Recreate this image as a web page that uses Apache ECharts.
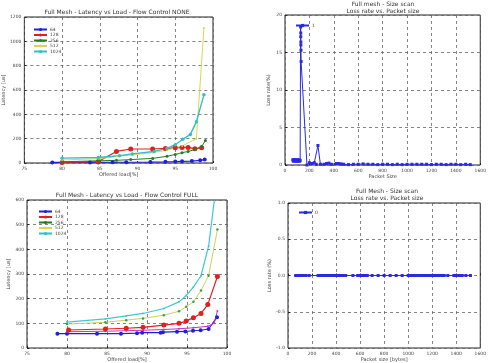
<!DOCTYPE html>
<html>
<head>
<meta charset="utf-8">
<script src="https://cdn.jsdelivr.net/npm/echarts@6/dist/echarts.min.js"></script>
<style>
  html, body { margin: 0; padding: 0; background: #fff; }
  #main { width: 489px; height: 363px; }
</style>
</head>
<body>
<div id="main"></div>
<script>
// 数据: 流控 NONE
const noneNames = ['64', '128', '256', '512', '1024']
const none64X = [78.7, 80, 83.7, 84.8, 86.7, 88.5, 91.7, 93.7, 95, 95.9, 97.2, 98.3, 98.9]
const none64Y = [5, 5, 5, 5, 6, 6, 8, 10, 12, 14, 16, 22, 28]
const none128X = [80, 84.8, 87.2, 89.1, 92, 93.7, 95, 95.9, 96.7, 97.6, 98.5]
const none128Y = [5, 12, 95, 115, 115, 120, 125, 128, 128, 118, 125]
const none256X = [80, 84.8, 87.2, 89.1, 92, 93.9, 95, 95.9, 96.7, 97.6, 98.5, 99]
const none256Y = [10, 18, 22, 28, 38, 55, 70, 85, 95, 110, 135, 185]
const none512X = [80, 84.8, 87.2, 89.1, 92, 93.9, 95.9, 97.8, 98.8]
const none512Y = [25, 35, 55, 65, 85, 105, 140, 200, 1110]
const none1024X = [80, 84.8, 87.6, 89.3, 92.2, 93.9, 95, 96, 97, 97.8, 98.8]
const none1024Y = [40, 45, 60, 75, 95, 120, 150, 195, 235, 340, 560]

// 数据: 流控 FULL
const fullNames = ['64', '128', '256', '512', '1024']
const full64X = [78.8, 80, 83.75, 86.75, 88.75, 89.4, 91.7, 92, 93.75, 94.8, 95.75, 96.7, 97.7, 98.75]
const full64Y = [58, 58, 58, 58, 60, 62, 62, 64, 66, 67, 70, 72, 77, 125]
const full128X = [80, 84.8, 87.4, 89.5, 92.1, 94, 95.8, 97.6, 98.4, 98.8]
const full128Y = [66, 68, 70, 72, 75, 78, 82, 88, 100, 150]
const full256X = [80.2, 84.8, 87.4, 89.5, 92.1, 94, 94.9, 95.8, 96.75, 97.6, 98.8]
const full256Y = [73, 77, 80, 84, 93, 100, 109, 123, 140, 176, 290]
const full512X = [80, 84.8, 87.4, 89.5, 92.1, 94, 94.9, 95.8, 96.75, 97.7, 98.8]
const full512Y = [97, 104, 113, 120, 133, 149, 167, 187, 233, 293, 480]
const full1024X = [80, 84.8, 87.4, 89.5, 92.1, 94, 94.9, 95.8, 96.75, 97.7, 98.5]
const full1024Y = [105, 118, 130, 140, 160, 187, 213, 247, 293, 413, 620]

// 数据: 包长扫描 (full mesh)
const scanSizes = [64, 68, 72, 76, 80, 84, 88, 92, 96, 100, 104, 108, 112, 116, 120, 124,
  128, 129, 129, 130, 130, 131, 132, 180, 200, 220, 240, 256, 270, 290, 320, 340, 360, 380,
  420, 440, 460, 480, 520, 560, 600, 640, 680, 720, 760, 800, 840, 880, 920, 960, 1000,
  1040, 1080, 1120, 1160, 1200, 1240, 1280, 1320, 1360, 1400, 1440, 1480, 1518]
const scanLoss = [0.7, 0.5, 0.7, 0.6, 0.7, 0.5, 0.6, 0.7, 0.5, 0.6, 0.7, 0.5, 0.6, 0.7, 0.5, 0.6,
  18.4, 17.6, 17.1, 16.4, 16, 15.3, 13.8, 0, 0.3, 0.2, 0.3, 0.1, 2.6, 0.1, 0.1, 0.2, 0.25, 0.1,
  0.2, 0.2, 0.15, 0.1, 0.05, 0.1, 0.1, 0.15, 0.1, 0.1, 0.05, 0.1, 0.1, 0.05, 0.1, 0.05, 0.1,
  0.1, 0.1, 0.1, 0.1, 0.05, 0.1, 0.1, 0.05, 0.1, 0.1, 0.05, 0.1, 0.05]

// 数据: 包长扫描 (Full Mesh, 无丢包)
const scan2Sizes = [64, 72, 80, 88, 96, 104, 112, 128, 150, 176, 250, 270, 290, 300, 320, 340,
  360, 380, 400, 420, 440, 460, 480, 540, 580, 600, 620, 640, 660, 700, 750, 800, 850, 900,
  950, 1000, 1020, 1040, 1060, 1080, 1100, 1120, 1140, 1160, 1180, 1200, 1220, 1240, 1260,
  1280, 1300, 1330, 1380, 1400, 1420, 1440, 1450, 1480, 1518]
const scan2Loss = [0, 0, 0, 0, 0, 0, 0, 0, 0, 0, 0, 0, 0, 0, 0, 0,
  0, 0, 0, 0, 0, 0, 0, 0, 0, 0, 0, 0, 0, 0, 0, 0, 0, 0,
  0, 0, 0, 0, 0, 0, 0, 0, 0, 0, 0, 0, 0, 0, 0,
  0, 0, 0, 0, 0, 0, 0, 0, 0, 0]

const pairs = (xs, ys) => xs.map((x, i) => [x, ys[i]])

const txt = '#444'
const fnt = 'DejaVu Sans'
const plain = v => String(v)

function xAx(grid, min, max, interval, name) {
  return {
    type: 'value', gridIndex: grid, min: min, max: max, interval: interval,
    name: name, nameLocation: 'middle', nameGap: 9,
    nameTextStyle: { fontSize: 5, color: txt, fontFamily: fnt },
    axisLine: { show: false },
    axisTick: { inside: true, length: 2, lineStyle: { color: '#222' } },
    axisLabel: { fontSize: 4.5, color: txt, fontFamily: fnt, margin: 3, formatter: plain },
    splitLine: { lineStyle: { color: '#666', type: [3, 3], width: 0.8 } }
  }
}
function yAx(grid, min, max, interval, name, fmt) {
  return {
    type: 'value', gridIndex: grid, min: min, max: max, interval: interval,
    name: name, nameLocation: 'middle', nameGap: 14, nameRotate: 90,
    nameTextStyle: { fontSize: 5, color: txt, fontFamily: fnt },
    axisLine: { show: false },
    axisTick: { inside: true, length: 2, lineStyle: { color: '#222' } },
    axisLabel: { fontSize: 4.5, color: txt, fontFamily: fnt, margin: 3, formatter: fmt || plain },
    splitLine: { lineStyle: { color: '#666', type: [3, 3], width: 0.8 } }
  }
}
function ln(name, grid, data, color, size, lw) {
  return {
    name: name, type: 'line', xAxisIndex: grid, yAxisIndex: grid,
    data: data, symbol: 'circle', symbolSize: size, showSymbol: true,
    lineStyle: { color: color, width: lw }, itemStyle: { color: color },
    animation: false
  }
}

let myChart = echarts.init(document.getElementById('main'))

const ttl = { fontSize: 6, fontWeight: 'normal', color: '#333', lineHeight: 7 }

let opt = {
  backgroundColor: '#fff',
  textStyle: { fontFamily: fnt },
  title: [
    { text: 'Full Mesh - Latency vs Load - Flow Control NONE', left: 117, top: 9, padding: 0,
      textAlign: 'center', textStyle: ttl },
    { text: 'Full mesh - Size scan\nLoss rate vs. Packet size', left: 383, top: 1, padding: 0,
      textAlign: 'center', textStyle: ttl },
    { text: 'Full Mesh - Latency vs Load - Flow Control FULL', left: 127, top: 192, padding: 0,
      textAlign: 'center', textStyle: ttl },
    { text: 'Full Mesh - Size scan\nLoss rate vs. Packet size', left: 387, top: 188, padding: 0,
      textAlign: 'center', textStyle: ttl }
  ],
  legend: [
    { data: noneNames, orient: 'vertical', left: 28, top: 22, itemWidth: 13, itemHeight: 4, itemGap: 0.5,
      textStyle: { fontSize: 4.5, color: txt, padding: [0, 0, 0, -2] }, selectedMode: false },
    { data: ['1'], orient: 'vertical', left: 290, top: 18, itemWidth: 13, itemHeight: 4,
      textStyle: { fontSize: 4.5, color: txt, padding: [0, 0, 0, -2] }, selectedMode: false },
    { data: fullNames, orient: 'vertical', left: 33, top: 204, itemWidth: 13, itemHeight: 4, itemGap: 0.5,
      textStyle: { fontSize: 4.5, color: txt, padding: [0, 0, 0, -2] }, selectedMode: false },
    { data: ['0'], orient: 'vertical', left: 293, top: 205, itemWidth: 13, itemHeight: 4,
      textStyle: { fontSize: 4.5, color: txt, padding: [0, 0, 0, -2] }, selectedMode: false }
  ],
  grid: [
    { left: 22, top: 17, width: 191, height: 146, show: true, borderColor: '#222', borderWidth: 1 },
    { left: 285, top: 15, width: 197, height: 150, show: true, borderColor: '#222', borderWidth: 1 },
    { left: 27, top: 200, width: 200, height: 150, show: true, borderColor: '#222', borderWidth: 1 },
    { left: 288, top: 203, width: 199, height: 150, show: true, borderColor: '#222', borderWidth: 1 }
  ],
  xAxis: [
    xAx(0, 75, 100, 5, 'Offered load[%]'),
    xAx(1, 0, 1600, 200, 'Packet Size'),
    xAx(2, 75, 100, 5, 'Offered load[%]'),
    xAx(3, 0, 1600, 200, 'Packet size [bytes]')
  ],
  yAxis: [
    yAx(0, 0, 1200, 200, 'Latency [us]'),
    yAx(1, 0, 20, 5, 'Loss rate(%)'),
    yAx(2, 0, 600, 100, 'Latency [us]'),
    yAx(3, -1, 1, 0.5, 'Loss rate (%)', v => v.toFixed(1))
  ],
  series: [
    ln('64', 0, pairs(none64X, none64Y), '#1f1fe0', 4, 1.2),
    ln('128', 0, pairs(none128X, none128Y), '#e02020', 5, 1.2),
    ln('256', 0, pairs(none256X, none256Y), '#208020', 3, 1),
    ln('512', 0, pairs(none512X, none512Y), '#d8d850', 2, 1),
    ln('1024', 0, pairs(none1024X, none1024Y), '#30c0c8', 3.5, 1.4),

    Object.assign(ln('1', 1, pairs(scanSizes, scanLoss), '#2a2ae0', 3, 1), { symbol: 'rect' }),

    ln('64', 2, pairs(full64X, full64Y), '#1f1fe0', 4, 1.2),
    ln('128', 2, pairs(full128X, full128Y), '#d030c0', 2, 1),
    ln('256', 2, pairs(full256X, full256Y), '#e02020', 5, 1.2),
    Object.assign(ln('512', 2, pairs(full512X, full512Y), '#d0d060', 2.5, 1), { itemStyle: { color: '#40a040' } }),
    ln('1024', 2, pairs(full1024X, full1024Y), '#40c8d0', 2, 1.2),

    Object.assign(ln('0', 3, pairs(scan2Sizes, scan2Loss), '#2a2ae0', 3, 1), { symbol: 'rect' })
  ]
}

myChart.setOption(opt)
</script>
</body>
</html>
